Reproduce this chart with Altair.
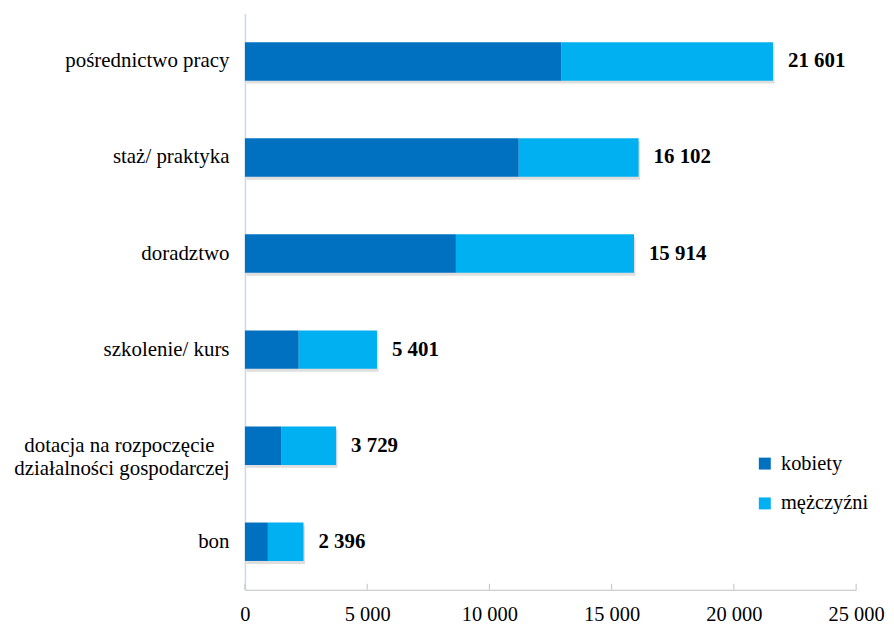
import altair as alt
import pandas as pd

categories = [
    "pośrednictwo pracy",
    "staż/ praktyka",
    "doradztwo",
    "szkolenie/ kurs",
    "dotacja na rozpoczęcie działalności gospodarczej",
    "bon",
]
kobiety = [12950, 11200, 8630, 2200, 1500, 940]
mezczyzni = [8651, 4902, 7284, 3201, 2229, 1456]
totals = [21601, 16102, 15914, 5401, 3729, 2396]
series = ["kobiety", "mężczyźni"]
colors = ["#0070C0", "#00B0F0"]
x_ticks = [0, 5000, 10000, 15000, 20000, 25000]

rows = []
for c, k, m in zip(categories, kobiety, mezczyzni):
    rows.append({"cat": c, "series": series[0], "value": k, "ord": 0})
    rows.append({"cat": c, "series": series[1], "value": m, "ord": 1})
df = pd.DataFrame(rows)
tot = pd.DataFrame({
    "cat": categories,
    "total": totals,
    "label": [f"{t:,}".replace(",", " ") for t in totals],
})
ticks_df = pd.DataFrame({"t": x_ticks})

W, H = 614, 579
FONT = "Liberation Serif"
PAD = "\u2800"

label_expr = (
    "datum.label == 'dotacja na rozpoczęcie działalności gospodarczej' ? "
    f"['dotacja na rozpoczęcie{PAD}', 'działalności gospodarczej'] : datum.label"
)

yaxis = alt.Axis(
    title=None, ticks=False, labelFont=FONT, labelFontSize=21, labelColor="#000",
    labelPadding=16, domainColor="#c9d9ee", domainWidth=1.5, labelLimit=400,
    labelLineHeight=23, labelExpr=label_expr,
)
yscale = alt.Scale(paddingInner=0.6, paddingOuter=0.3)
xscale = alt.Scale(domain=[0, 25000], nice=False)
xaxis = alt.Axis(
    values=x_ticks, title=None, grid=False, ticks=False, domainColor="#bfbfbf",
    labelFont=FONT, labelFontSize=20.5, labelColor="#000", labelPadding=15,
    labelFlush=False, labelBaseline="top",
    labelExpr="replace(format(datum.value, ','), ',', ' ')",
)

def ypos():
    return alt.Y("cat:N", sort=categories, scale=yscale, axis=yaxis)

shadow = alt.Chart(tot).mark_bar(color="#000000", opacity=0.13, yOffset=3, xOffset=1.5).encode(
    x=alt.X("total:Q", scale=xscale, axis=xaxis),
    y=ypos(),
)

bars = alt.Chart(df).mark_bar().encode(
    x=alt.X("value:Q", stack="zero", scale=xscale, axis=xaxis),
    y=ypos(),
    color=alt.Color(
        "series:N",
        scale=alt.Scale(domain=series, range=colors),
        legend=alt.Legend(
            title=None, orient="none", legendX=512, legendY=442,
            symbolType="square", symbolSize=144, symbolStrokeWidth=0,
            labelFont=FONT, labelFontSize=20.5, labelColor="#000",
            rowPadding=19, labelOffset=6,
        ),
    ),
    order=alt.Order("ord:Q"),
)

text = alt.Chart(tot).mark_text(
    align="left", baseline="middle", dx=15, font=FONT, fontSize=21,
    fontWeight="bold", color="#000",
).encode(
    x=alt.X("total:Q", scale=xscale, axis=xaxis),
    y=ypos(),
    text="label:N",
)

tick_rules = alt.Chart(ticks_df).mark_rule(color="#bfbfbf").encode(
    x=alt.X("t:Q", scale=xscale, axis=xaxis),
    y=alt.value(H - 6),
    y2=alt.value(H),
)

chart = alt.layer(shadow, bars, text, tick_rules).properties(
    width=W, height=H,
    padding={"left": 238, "top": 4, "right": 30, "bottom": 40},
    autosize="none",
).configure_view(stroke=None)

chart.save("out.html", embed_options={"renderer": "svg", "actions": False})
